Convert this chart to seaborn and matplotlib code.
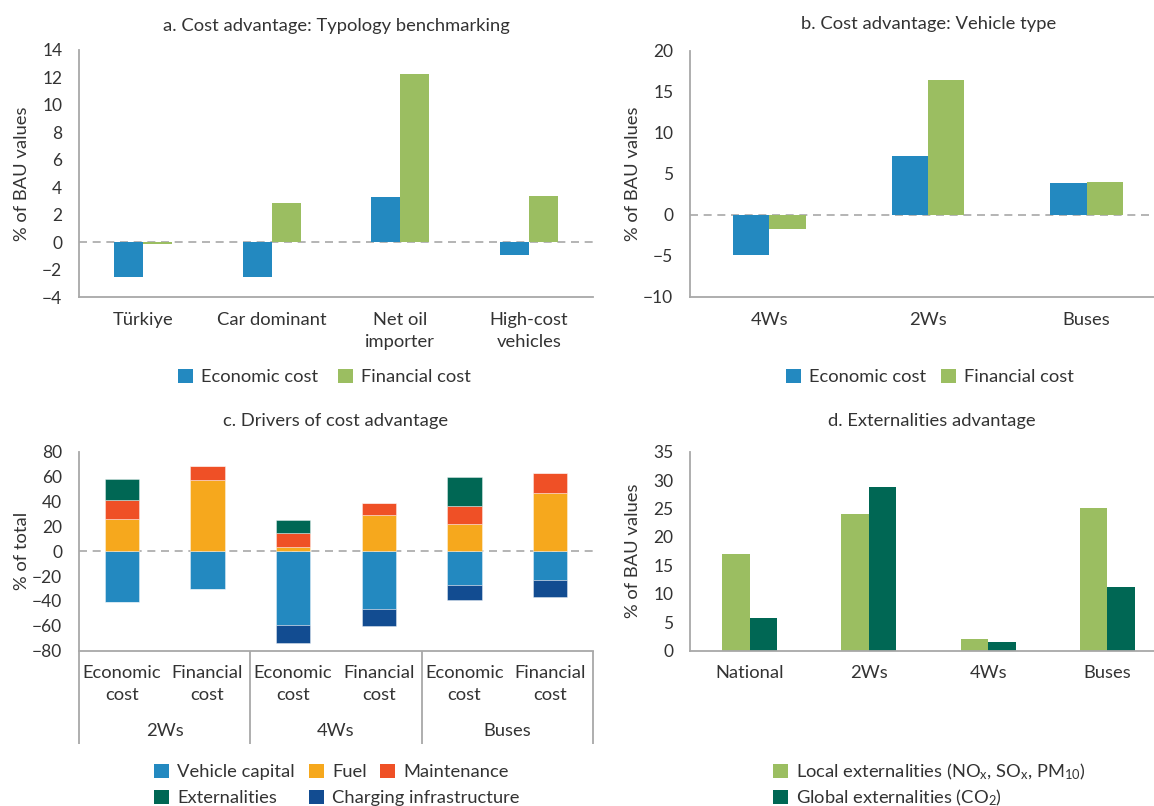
import numpy as np
import pandas as pd
import matplotlib
matplotlib.use("Agg")
import matplotlib.pyplot as plt
from matplotlib.patches import Patch
import seaborn as sns

# ---- a. Cost advantage: typology benchmarking (% of BAU values)
typology = ["Türkiye", "Car dominant", "Net oil\nimporter", "High-cost\nvehicles"]
typology_economic = [-2.55, -2.55, 3.3, -0.95]
typology_financial = [-0.15, 2.85, 12.25, 3.35]

# ---- b. Cost advantage: vehicle type (% of BAU values)
vehicle_types = ["4Ws", "2Ws", "Buses"]
vehicle_economic = [-4.9, 7.2, 3.9]
vehicle_financial = [-1.7, 16.45, 4.0]

# ---- c. Drivers of cost advantage (% of total)
driver_groups = ["2Ws", "4Ws", "Buses"]
cost_bases = ["Economic\ncost", "Financial\ncost"]
vehicle_capital = [-41.0, -30.5, -59.0, -46.5, -27.0, -23.5]
charging_infrastructure = [0.0, 0.0, -15.0, -13.5, -12.5, -13.0]
fuel = [26.0, 57.5, 3.5, 29.0, 21.5, 47.0]
maintenance = [15.0, 11.0, 11.5, 10.0, 14.5, 15.5]
externalities = [17.0, 0.0, 10.0, 0.0, 23.8, 0.0]

# ---- d. Externalities advantage (% of BAU values)
externality_categories = ["National", "2Ws", "4Ws", "Buses"]
local_externalities = [17.0, 24.0, 2.1, 25.1]
global_externalities = [5.75, 28.8, 1.5, 11.2]

BLUE = "#2389c0"
GREEN = "#9bbe61"
DARK_GREEN = "#006754"
ORANGE = "#f6a81d"
RED = "#ef5026"
NAVY = "#124c91"
GRAY = "#a8a8a8"
TEXT = "#333333"

FS = 13.2     # label / title / legend size
TICK_FS = 12.5

sns.set_style("white")
plt.rcParams.update({
    "font.family": ["Lato", "DejaVu Sans"],
    "mathtext.fontset": "custom",
    "mathtext.rm": "Lato",
    "font.size": FS,
    "text.color": TEXT,
    "axes.labelcolor": TEXT,
    "axes.edgecolor": GRAY,
    "axes.linewidth": 1.3,
    "xtick.color": GRAY,
    "ytick.color": GRAY,
    "xtick.labelcolor": TEXT,
    "ytick.labelcolor": TEXT,
})

W, H = 1154, 806
fig = plt.figure(figsize=(W / 100, H / 100), dpi=100)


def add_axes_px(left, top, right, bottom):
    return fig.add_axes([left / W, 1 - bottom / H, (right - left) / W, (bottom - top) / H])


def style_axes(ax, ylim, yticks, ylabel, label_x, xpad=11, boundaries=None):
    sns.despine(ax=ax)
    ax.set_ylim(*ylim)
    ax.set_yticks(yticks)
    ax.set_xlabel("")
    ax.set_ylabel(ylabel, fontsize=FS)
    ax.yaxis.set_label_coords(label_x, 0.5)
    ax.tick_params(axis="y", length=5, width=1.2, pad=7, labelsize=TICK_FS)
    ax.tick_params(axis="x", which="major", length=0, pad=xpad, labelsize=FS)
    ax.tick_params(axis="x", which="minor", length=7, width=1.2)
    if boundaries is not None:
        ax.set_xticks(boundaries, minor=True)


def zero_line(ax):
    ax.axhline(0, color=GRAY, lw=1.2, ls=(0, (4.8, 3.4)), zorder=0.5)


def add_key(x_px, y_px, color, label):
    return fig.legend(handles=[Patch(facecolor=color, edgecolor="none")], labels=[label],
                      loc="center left", bbox_to_anchor=(x_px / W, 1 - y_px / H),
                      frameon=False, fontsize=FS, handlelength=0.8, handleheight=0.8,
                      handletextpad=0.45, borderpad=0, borderaxespad=0)


def long_frame(categories, series):
    rows = []
    for name, values in series.items():
        for cat, v in zip(categories, values):
            rows.append({"category": cat, "series": name, "value": v})
    return pd.DataFrame(rows)


BAR_KW = dict(saturation=1, errorbar=None, edgecolor="none", linewidth=0, zorder=2)

# ---------------- panel a ----------------
ax_a = add_axes_px(79, 50, 593, 297)
df_a = long_frame(typology, {"Economic cost": typology_economic,
                             "Financial cost": typology_financial})
zero_line(ax_a)
sns.barplot(data=df_a, x="category", y="value", hue="series", order=typology,
            palette=[BLUE, GREEN], width=0.45, legend=False, ax=ax_a, **BAR_KW)
style_axes(ax_a, (-4, 14), np.arange(-4, 15, 2), "% of BAU values", -0.095,
           boundaries=np.arange(-0.5, len(typology)))
ax_a.set_xlim(-0.5, len(typology) - 0.5)
for lbl in ax_a.get_xticklabels():
    lbl.set_linespacing(1.45)
fig.text(336 / W, 1 - 31 / H, "a. Cost advantage: Typology benchmarking",
         ha="center", va="baseline", fontsize=FS)
add_key(178, 377, BLUE, "Economic cost")
add_key(338, 377, GREEN, "Financial cost")

# ---------------- panel b ----------------
ax_b = add_axes_px(690, 50.7, 1166, 296.7)
df_b = long_frame(vehicle_types, {"Economic cost": vehicle_economic,
                                  "Financial cost": vehicle_financial})
zero_line(ax_b)
sns.barplot(data=df_b, x="category", y="value", hue="series", order=vehicle_types,
            palette=[BLUE, GREEN], width=0.46, legend=False, ax=ax_b, **BAR_KW)
style_axes(ax_b, (-10, 20), np.arange(-10, 21, 5), "% of BAU values", -0.103,
           boundaries=np.arange(-0.5, len(vehicle_types)))
ax_b.set_xlim(-0.5, len(vehicle_types) - 0.5)
fig.text(929 / W, 1 - 29 / H, "b. Cost advantage: Vehicle type",
         ha="center", va="baseline", fontsize=FS)
add_key(786, 377, BLUE, "Economic cost")
add_key(941, 377, GREEN, "Financial cost")

# ---------------- panel c ----------------
ax_c = add_axes_px(79, 451.7, 593, 650.7)
slots = [f"{g} {b}" for g in driver_groups for b in cost_bases]
zero_line(ax_c)
vc = np.array(vehicle_capital)
ch = np.array(charging_infrastructure)
fu = np.array(fuel)
ma = np.array(maintenance)
ex = np.array(externalities)
segments = [
    (vc, np.zeros(6), BLUE),
    (ch, vc, NAVY),
    (fu, np.zeros(6), ORANGE),
    (ma, fu, RED),
    (ex, fu + ma, DARK_GREEN),
]
for heights, base, color in segments:
    df_seg = pd.DataFrame({"slot": slots, "value": heights})
    sns.barplot(data=df_seg, x="slot", y="value", order=slots, color=color,
                saturation=1, width=0.4, errorbar=None, ax=ax_c, zorder=2,
                bottom=base, edgecolor=(1, 1, 1, 0.45), linewidth=0.6)
style_axes(ax_c, (-80, 80), np.arange(-80, 81, 20), "% of total", -0.095, xpad=10,
           boundaries=[0.5, 2.5, 4.5])
ax_c.set_xlim(-0.5, len(slots) - 0.5)
ax_c.set_xticks(range(len(slots)))
ax_c.set_xticklabels(cost_bases * len(driver_groups))
for lbl in ax_c.get_xticklabels():
    lbl.set_linespacing(1.5)
trans_c = ax_c.get_xaxis_transform()
sep_bottom = -(744 - 650.7) / 199
for xb in np.arange(-0.5, len(slots), 2):
    ax_c.plot([xb, xb], [0, sep_bottom], color=GRAY, lw=1.3, transform=trans_c,
              clip_on=False, solid_capstyle="butt")
group_y = -(736 - 650.7) / 199
for i, g in enumerate(driver_groups):
    ax_c.text(2 * i + 0.5, group_y, g, transform=trans_c, ha="center",
              va="baseline", fontsize=FS)
fig.text(336 / W, 1 - 426 / H, "c. Drivers of cost advantage",
         ha="center", va="baseline", fontsize=FS)
add_key(154, 771.7, BLUE, "Vehicle capital")
add_key(309, 771.7, ORANGE, "Fuel")
add_key(380, 771.7, RED, "Maintenance")
add_key(154, 798, DARK_GREEN, "Externalities")
add_key(309, 798, NAVY, "Charging infrastructure")

# ---------------- panel d ----------------
ax_d = add_axes_px(690, 451.7, 1167, 650.7)
df_d = long_frame(externality_categories, {"Local": local_externalities,
                                           "Global": global_externalities})
sns.barplot(data=df_d, x="category", y="value", hue="series",
            order=externality_categories, palette=[GREEN, DARK_GREEN],
            width=0.46, legend=False, ax=ax_d, **BAR_KW)
style_axes(ax_d, (0, 35), np.arange(0, 36, 5), "% of BAU values", -0.103, xpad=10,
           boundaries=np.arange(-0.5, len(externality_categories)))
ax_d.set_xlim(-0.5, len(externality_categories) - 0.5)
fig.text(932 / W, 1 - 426 / H, "d. Externalities advantage",
         ha="center", va="baseline", fontsize=FS)
add_key(773, 771.7, GREEN,
        r"Local externalities (NO$\mathregular{_x}$, SO$\mathregular{_x}$, PM$\mathregular{_{10}}$)")
add_key(773, 798, DARK_GREEN, r"Global externalities (CO$\mathregular{_2}$)")

fig.savefig("out.png", dpi=100)
